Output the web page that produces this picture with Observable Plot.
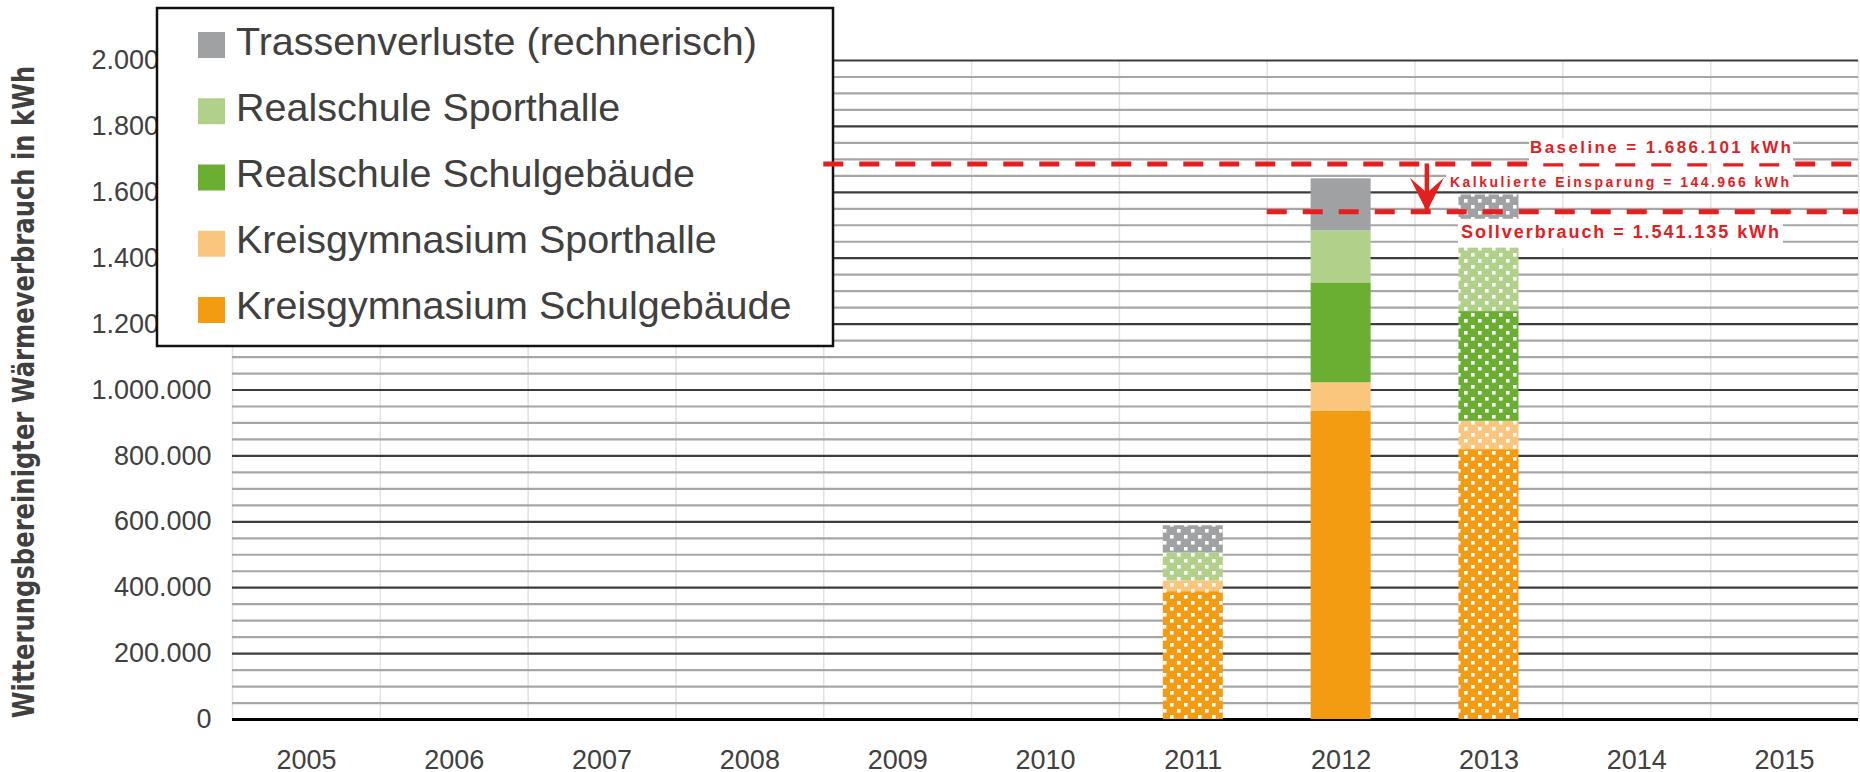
<!DOCTYPE html>
<html>
<head>
<meta charset="utf-8">
<script src="https://cdn.jsdelivr.net/npm/d3@7"></script>
<script src="https://cdn.jsdelivr.net/npm/@observablehq/plot@0.6"></script>
<style>
  html, body { margin: 0; padding: 0; background: #fff; }
  #chart { position: relative; width: 1860px; height: 772px; }
</style>
</head>
<body>
<div id="chart"></div>
<script>
// ---------- data ----------
const tickYears = [2005, 2006, 2007, 2008, 2009, 2010, 2011, 2012, 2013, 2014, 2015];
const yTicks = [0, 200000, 400000, 600000, 800000, 1000000, 1200000, 1400000, 1600000, 1800000, 2000000];
const barYears = [2011, 2012, 2013];
const patterned = [true, false, true]; // hatched (dotted) bars

const seriesNames = [
  "Kreisgymnasium Schulgebäude",
  "Kreisgymnasium Sporthalle",
  "Realschule Schulgebäude",
  "Realschule Sporthalle",
  "Trassenverluste (rechnerisch)"
];
const seriesColors = ["#F39C12", "#FAC57C", "#6AAF31", "#B1D18B", "#A0A1A3"];

const kgSchulgebaeude = [388000, 935000, 819000];
const kgSporthalle    = [33000, 87000, 86000];
const rsSchulgebaeude = [0, 303000, 333000];
const rsSporthalle    = [85000, 158000, 192000];
const trassenverluste = [82000, 158000, 162000];
const seriesValues = [kgSchulgebaeude, kgSporthalle, rsSchulgebaeude, rsSporthalle, trassenverluste];

const baselineValue = 1686101;
const sollValue = 1541135;
const savingValue = baselineValue - sollValue; // 144.966
const baselineFromYear = 2009;
const sollFromYear = 2012;
const arrowYear = 2012.58;

const yTitle = "Witterungsbereinigter Wärmeverbrauch in kWh";

// ---------- helpers ----------
const fmt = d3.formatLocale({decimal: ",", thousands: ".", grouping: [3], currency: ["", ""]}).format(",d");
const red = "#E3201F";
const textColor = "#404040";

const rows = [];
barYears.forEach((yr, i) => {
  seriesValues.forEach((vals, s) => {
    rows.push({year: yr, series: seriesNames[s], value: vals[i],
      fill: patterned[i] ? `url(#pat${s})` : seriesColors[s]});
  });
});

const minorGrid = d3.range(50000, 2000001, 50000).filter(v => v % 200000 !== 0);
const majorGrid = yTicks.filter(v => v > 0);
const slotEdges = tickYears.map(y => y - 0.5).concat([tickYears[tickYears.length - 1] + 0.5]);
const xMin = slotEdges[0], xMax = slotEdges[slotEdges.length - 1];
const halfBar = 0.203;

const refLines = [
  {value: baselineValue, from: baselineFromYear - 0.5},
  {value: sollValue, from: sollFromYear - 0.5}
];

const stealth = {
  draw(ctx) {
    ctx.moveTo(0, 0);
    ctx.lineTo(17, -34);
    ctx.lineTo(0, -19);
    ctx.lineTo(-17, -34);
    ctx.closePath();
  }
};

// right: pixel of visible right edge of the text; len: visible width
const annotations = [
  {text: `Baseline = ${fmt(baselineValue)} kWh`, y: baselineValue, dy: -10.7, size: 17, right: 1791, len: 261, pad: [0, 2, 6, 1]},
  {text: `Kalkulierte Einsparung = ${fmt(savingValue)} kWh`, y: baselineValue, dy: 22.6, size: 14, right: 1789, len: 339, pad: [0, 4, 1, 4]},
  {text: `Sollverbrauch = ${fmt(sollValue)} kWh`, y: sollValue, dy: 26.5, size: 18, right: 1779, len: 318, pad: [3.4, 4, 5.5, 3]}
];

const chart = Plot.plot({
  width: 1860,
  height: 772,
  marginLeft: 232,
  marginRight: 2,
  marginTop: 60,
  marginBottom: 53,
  style: {fontFamily: "'Liberation Sans', Arial, sans-serif", color: textColor, background: "white", overflow: "visible"},
  x: {domain: [xMin, xMax], axis: null},
  y: {domain: [0, 2000000], axis: null},
  color: {type: "identity"},
  marks: [
    Plot.axisY(yTicks, {tickSize: 0, tickPadding: 21, tickFormat: fmt, fontSize: 27, label: null}),
    Plot.axisX(tickYears, {tickSize: 0, tickPadding: 30, tickFormat: d => `${d}`, fontSize: 27, label: null}),
    Plot.ruleX(slotEdges, {stroke: "#e2e2e2", strokeWidth: 1.5}),
    Plot.ruleY(minorGrid, {stroke: "#a6a6a6", strokeWidth: 2.2}),
    Plot.ruleY(majorGrid, {stroke: "#3c3c3c", strokeWidth: 2.2}),
    Plot.ruleY([0], {stroke: "#000", strokeWidth: 2.8}),
    Plot.rectY(rows, {x1: d => d.year - halfBar, x2: d => d.year + halfBar, y: "value", fill: "fill"}),
    Plot.ruleY(refLines, {y: "value", x1: "from", x2: xMax, stroke: red, strokeWidth: 5, strokeDasharray: "20,16"}),
    Plot.ruleX([arrowYear], {y1: baselineValue, y2: sollValue, stroke: red, strokeWidth: 4.5}),
    Plot.dot([arrowYear], {x: d => d, y: sollValue, symbol: stealth, fill: red, stroke: null, r: 5}),
    ...annotations.map(a => Plot.text([a], {
      frameAnchor: "right", y: "y", dx: 0, dy: a.dy, text: "text", textAnchor: "end",
      lineAnchor: "bottom", fontSize: a.size, fontWeight: "bold", fill: red
    })),
    Plot.text([yTitle], {
      frameAnchor: "left", dx: -208.6, dy: 2, rotate: -90, text: d => d, textAnchor: "middle",
      lineAnchor: "middle", fontSize: 30, fontWeight: "bold", fontFamily: "'DejaVu Sans', sans-serif",
      fill: textColor
    })
  ]
});

document.getElementById("chart").appendChild(chart);

const svgNS = "http://www.w3.org/2000/svg";
const svg = d3.select(chart);
const allTexts = () => Array.from(chart.querySelectorAll("text"));
const findText = s => allTexts().find(t => t.textContent === s);

// patterns for hatched bars
const defs = svg.insert("defs", ":first-child");
seriesColors.forEach((c, s) => {
  const p = defs.append("pattern").attr("id", `pat${s}`).attr("patternUnits", "userSpaceOnUse")
    .attr("width", 14).attr("height", 12);
  p.append("rect").attr("width", 14).attr("height", 12).attr("fill", c);
  p.append("rect").attr("x", 1).attr("y", 1).attr("width", 3.6).attr("height", 3.6).attr("fill", "#fff");
  p.append("rect").attr("x", 8).attr("y", 7).attr("width", 3.6).attr("height", 3.6).attr("fill", "#fff");
});

// legend (inside the svg, below the reference lines)
const legend = d3.create("svg:g").attr("class", "legend").attr("text-anchor", "start");
legend.append("rect").attr("x", 157).attr("y", 8).attr("width", 676).attr("height", 338)
  .attr("fill", "#fff").attr("stroke", "#111").attr("stroke-width", 2.5);
const legendOrder = seriesNames.map((n, i) => ({name: n, color: seriesColors[i]})).reverse();
legendOrder.forEach((item, i) => {
  legend.append("rect").attr("x", 198).attr("y", 32 + 66.25 * i).attr("width", 27).attr("height", 26).attr("fill", item.color);
  legend.append("text").attr("x", 236).attr("y", 55 + 66 * i).attr("font-size", 39.5)
    .attr("text-anchor", "start").attr("fill", textColor)
    .attr("font-family", "'Liberation Sans', Arial, sans-serif").text(item.name);
});
// place legend just before the first dashed reference line group
const dashed = chart.querySelector('[stroke-dasharray]');
let refG = dashed ? (dashed.tagName.toLowerCase() === "g" ? dashed : dashed.closest("g")) : null;
if (refG && refG.parentNode === chart) chart.insertBefore(legend.node(), refG);
else if (refG) { while (refG.parentNode && refG.parentNode !== chart) refG = refG.parentNode; chart.insertBefore(legend.node(), refG); }
else chart.appendChild(legend.node());

// annotation texts: letter-spacing to match widths, right alignment and white background boxes
const svgRect = chart.getBoundingClientRect();
annotations.forEach(a => {
  const t = findText(a.text);
  if (!t) return;
  const natural = t.getComputedTextLength();
  const n = a.text.length;
  const ls = (a.len - natural) / (n - 1);
  t.style.letterSpacing = `${ls}px`;
  let r = t.getBoundingClientRect();
  const shift = a.right - (r.right - svgRect.left) + ls; // trailing spacing after last glyph
  t.setAttribute("dx", (shift).toFixed(2));
  const b = t.getBBox();
  const box = document.createElementNS(svgNS, "rect");
  box.setAttribute("x", b.x - a.pad[3]);
  box.setAttribute("y", b.y - a.pad[0]);
  box.setAttribute("width", Math.max(0, b.width - ls) + a.pad[3] + a.pad[1]);
  box.setAttribute("height", b.height + a.pad[0] + a.pad[2]);
  box.setAttribute("fill", "#fff");
  if (t.getAttribute("transform")) box.setAttribute("transform", t.getAttribute("transform"));
  t.parentNode.insertBefore(box, t);
});

// y title: compress along its direction to the reference length
const yt = findText(yTitle);
if (yt) {
  const L = yt.getComputedTextLength();
  const sx = 653 / L;
  const tr = yt.getAttribute("transform") || "";
  yt.setAttribute("transform", `${tr} scale(${sx.toFixed(4)},1)`);
}
</script>
</body>
</html>
